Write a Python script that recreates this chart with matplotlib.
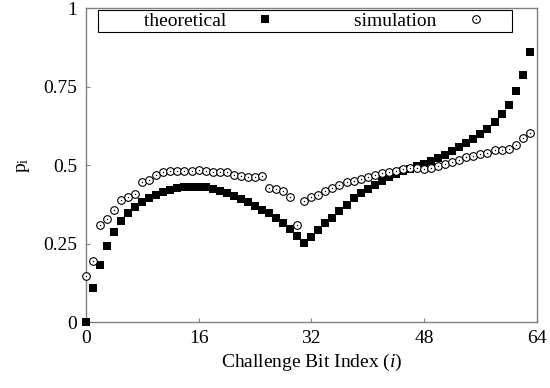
import matplotlib
matplotlib.use("Agg")
import matplotlib.pyplot as plt

plt.rcParams['font.family'] = ['Liberation Serif', 'DejaVu Serif']
plt.rcParams['mathtext.fontset'] = 'custom'
plt.rcParams['mathtext.rm'] = 'Liberation Serif'
plt.rcParams['mathtext.it'] = 'Liberation Serif:italic'

# challenge bit index 0..63
bits = list(range(64))

theoretical = [0.0, 0.109, 0.183, 0.241, 0.286, 0.321, 0.346, 0.366,
               0.383, 0.395, 0.406, 0.415, 0.421, 0.426, 0.429, 0.431,
               0.431, 0.429, 0.424, 0.419, 0.411, 0.403, 0.393, 0.383,
               0.371, 0.358, 0.346, 0.332, 0.314, 0.295, 0.275, 0.252,
               0.272, 0.293, 0.314, 0.333, 0.354, 0.374, 0.394, 0.410,
               0.424, 0.437, 0.449, 0.461, 0.471, 0.480, 0.488, 0.496,
               0.503, 0.512, 0.523, 0.533, 0.544, 0.558, 0.571, 0.583,
               0.599, 0.616, 0.638, 0.663, 0.693, 0.735, 0.788, 0.859]

simulation = [0.146, 0.196, 0.308, 0.329, 0.356, 0.388, 0.398, 0.408,
              0.445, 0.452, 0.468, 0.478, 0.480, 0.480, 0.482, 0.482,
              0.483, 0.480, 0.478, 0.478, 0.477, 0.470, 0.464, 0.462,
              0.462, 0.464, 0.427, 0.424, 0.417, 0.399, 0.310, 0.385,
              0.399, 0.406, 0.417, 0.427, 0.438, 0.445, 0.448, 0.456,
              0.461, 0.467, 0.475, 0.478, 0.482, 0.488, 0.491, 0.491,
              0.488, 0.490, 0.498, 0.503, 0.509, 0.517, 0.525, 0.530,
              0.536, 0.540, 0.547, 0.549, 0.552, 0.565, 0.586, 0.602]

xticks = [0, 16, 32, 48, 64]
yticks = [0, 0.25, 0.5, 0.75, 1]
ytick_labels = ['0', '0.25', '0.5', '0.75', '1']

fig = plt.figure(figsize=(5.5, 3.88), dpi=100)
ax = fig.add_axes([0.156, 0.170, 0.820, 0.809])

# squares = theoretical, dotted open circles = simulation
sq, = ax.plot(bits, theoretical, 's', color='black', markersize=5.2,
              markeredgewidth=0, zorder=3, clip_on=False)
circ, = ax.plot(bits, simulation, 'o', markerfacecolor='white',
                markeredgecolor='black', markersize=5.5,
                markeredgewidth=0.8, zorder=4, clip_on=False)
dot, = ax.plot(bits, simulation, 'o', color='black', markersize=1.0,
               markeredgewidth=0, zorder=5, clip_on=False)

ax.set_xlim(0, 64)
ax.set_ylim(0, 1)
ax.set_xticks(xticks)
ax.set_yticks(yticks)
ax.set_yticklabels(ytick_labels)
ax.tick_params(direction='in', length=3, width=0.8, color='#808080',
               labelsize=14, pad=6)

for s in ax.spines.values():
    s.set_color('#808080')
    s.set_linewidth(1.0)

ax.set_xlabel('Challenge Bit Index ($\\mathit{i}$)', fontsize=14, labelpad=3)
ax.set_ylabel('$\\mathregular{p_i}$', fontsize=14, labelpad=8)

# gnuplot-style key: text first, then the marker
pad = ' ' * 9
leg = ax.legend([sq, (circ, dot)], [pad + 'theoretical', pad + 'simulation'],
                ncol=2, markerfirst=False, loc='upper left',
                bbox_to_anchor=(0.027, 0.993), fontsize=14,
                frameon=True, fancybox=False, edgecolor='black',
                framealpha=1, borderpad=0.1, handlelength=3.5,
                handletextpad=0.26, columnspacing=0.57, borderaxespad=0)
leg.get_frame().set_linewidth(0.8)

fig.savefig('out.png', dpi=100)
